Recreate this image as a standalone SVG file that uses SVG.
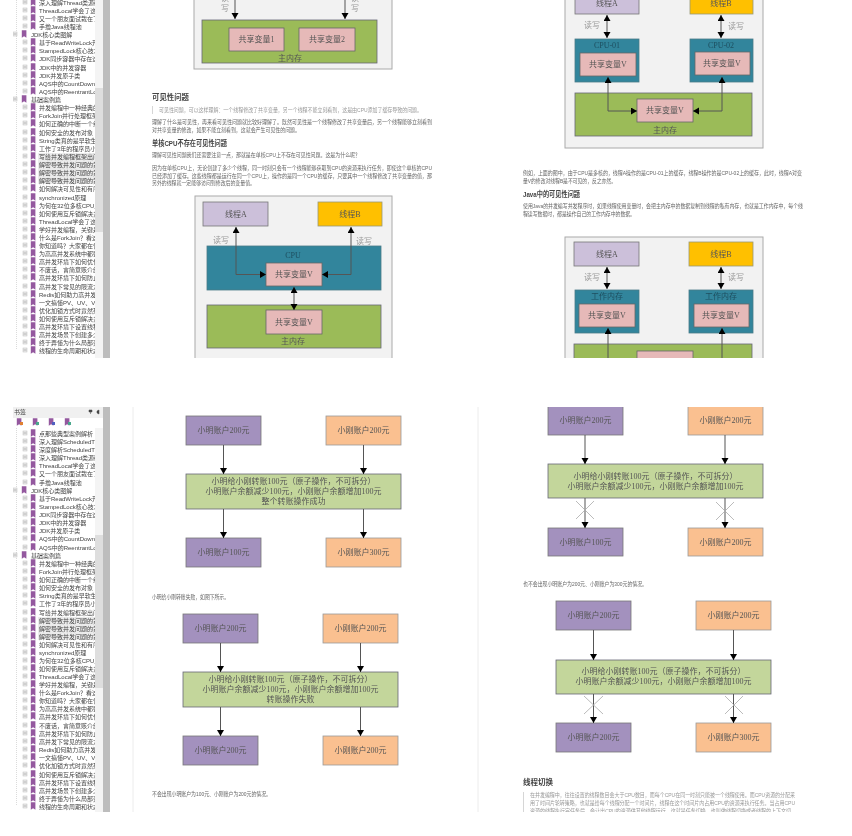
<svg xmlns="http://www.w3.org/2000/svg" width="852" height="836" viewBox="0 0 852 836">
<style>
text{font-family:"Liberation Sans","Noto Sans CJK SC",sans-serif}
.t{font-size:6px;fill:#444}
.b{font-size:5.6px;fill:#666}
.q{font-size:5.6px;fill:#999}
.h{font-size:7.5px;font-weight:700;fill:#444}
.h2{font-size:7.5px;font-weight:700;fill:#444}
.s{font-family:"Liberation Serif","Noto Sans CJK SC",serif;font-size:8px;fill:#555;text-anchor:middle}
.l{font-family:"Liberation Serif","Noto Sans CJK SC",serif;font-size:8px;fill:#999;text-anchor:middle}
.d{font-family:"Liberation Serif","Noto Sans CJK SC",serif;font-size:8px;fill:#1f4e5f;text-anchor:middle}
.outer{fill:#f2f2f2;stroke:#aaa;stroke-width:1}
.pa{fill:#ccc0da;stroke:#777;stroke-width:.8}
.pb{fill:#ffc000;stroke:#997;stroke-width:.8}
.cpu{fill:#31859c;stroke:#4a7a88;stroke-width:.8}
.var{fill:#e6b9b8;stroke:#666;stroke-width:.8}
.mem{fill:#9bbb59;stroke:#667;stroke-width:.8}
.pu{fill:#a391be;stroke:#777;stroke-width:.8}
.or{fill:#fac090;stroke:#999;stroke-width:.8}
.gr{fill:#c3d69b;stroke:#667;stroke-width:.8}
.cn{fill:none;stroke:#555;stroke-width:1}
.one{marker-end:url(#ah)}
.two{marker-start:url(#ah);marker-end:url(#ah)}
.x{fill:none;stroke:#aaa;stroke-width:.8}
.edge{stroke:#ececec;stroke-width:1}
</style>
<defs>
<marker id="ah" markerUnits="userSpaceOnUse" markerWidth="8" markerHeight="8" refX="6" refY="3.500" orient="auto-start-reverse"><path d="M0 0L6 3.500L0 7z" fill="#000"/></marker>
<filter id="soft" x="0" y="0" width="100%" height="100%"><feGaussianBlur stdDeviation="0.45"/></filter>
<g id="bm"><path d="M-2.200-3.800H2.400V3.800L0.100 2.200L-2.200 3.800z" fill="#94599f"/></g>
<g id="r2"><rect x="23" y="-2" width="4" height="4" fill="#eee" stroke="#bbb" stroke-width=".5"/><path d="M23.500 0H26.500" stroke="#777" stroke-width=".5"/><use href="#bm" x="33"/></g>
<g id="r1"><rect x="13" y="-2" width="4" height="4" fill="#eee" stroke="#bbb" stroke-width=".5"/><path d="M13.500 0H16.500" stroke="#777" stroke-width=".5"/><use href="#bm" x="24"/></g>
<clipPath id="ct"><rect x="0" y="0" width="95" height="358"/></clipPath>
<clipPath id="cb"><rect x="0" y="428" width="95" height="384"/></clipPath>
<clipPath id="p2"><rect x="134" y="0" width="344" height="358"/></clipPath>
<clipPath id="p3"><rect x="484" y="0" width="360" height="358"/></clipPath>
<clipPath id="p4"><rect x="134" y="407" width="344" height="405"/></clipPath>
<clipPath id="p5"><rect x="484" y="407" width="360" height="405"/></clipPath>
</defs>
<rect width="852" height="836" fill="#fff"/>
<g filter="url(#soft)">
<path class="edge" d="M133 407V812M478 407V812"/>

<g id="sidebar-top">
<rect x="95" y="0" width="8" height="358" fill="#f4f4f4"/>
<rect x="95" y="88" width="8" height="144" fill="#dedede"/>
<rect x="103" y="0" width="7" height="358" fill="#bdbdbd"/>
<path d="M16.500 0V350" stroke="#ccc" stroke-width=".7" stroke-dasharray="1 1"/>
<rect x="38" y="153" width="57" height="31" fill="#ececec"/>
<g clip-path="url(#ct)">
<use href="#r2" y="2"/><use href="#r2" y="10"/><use href="#r2" y="18"/><use href="#r2" y="26"/><use href="#r1" y="34"/><use href="#r2" y="42"/><use href="#r2" y="50"/><use href="#r2" y="58"/><use href="#r2" y="67"/><use href="#r2" y="75"/><use href="#r2" y="83"/><use href="#r2" y="91"/><use href="#r1" y="99"/><use href="#r2" y="107"/><use href="#r2" y="115"/><use href="#r2" y="123"/><use href="#r2" y="132"/><use href="#r2" y="140"/><use href="#r2" y="148"/><use href="#r2" y="156"/><use href="#r2" y="164"/><use href="#r2" y="172"/><use href="#r2" y="180"/><use href="#r2" y="188"/><use href="#r2" y="197"/><use href="#r2" y="205"/><use href="#r2" y="213"/><use href="#r2" y="221"/><use href="#r2" y="229"/><use href="#r2" y="237"/><use href="#r2" y="245"/><use href="#r2" y="253"/><use href="#r2" y="261"/><use href="#r2" y="269"/><use href="#r2" y="277"/><use href="#r2" y="286"/><use href="#r2" y="294"/><use href="#r2" y="302"/><use href="#r2" y="310"/><use href="#r2" y="318"/><use href="#r2" y="326"/><use href="#r2" y="334"/><use href="#r2" y="342"/><use href="#r2" y="350"/>
<g class="t">
<text x="39" y="4.500">深入理解Thread类源码</text>
<text x="39" y="12.500">ThreadLocal学会了这些</text>
<text x="39" y="20.500">又一个朋友面试栽在了</text>
<text x="39" y="28.500">手撸Java线程池</text>
<text x="31" y="36.500">JDK核心类图解</text>
<text x="39" y="44.500">基于ReadWriteLock开</text>
<text x="39" y="52.500">StampedLock核心技术</text>
<text x="39" y="60.500">JDK同步容器中存在这些</text>
<text x="39" y="69.500">JDK中的并发容器</text>
<text x="39" y="77.500">JDK并发原子类</text>
<text x="39" y="85.500">AQS中的CountDownLatch</text>
<text x="39" y="93.500">AQS中的ReentrantLock</text>
<text x="31" y="101.500">基础案例篇</text>
<text x="39" y="109.500">并发编程中一种经典的</text>
<text x="39" y="117.500">ForkJoin并行处理框架</text>
<text x="39" y="125.500">如何正确的中断一个线</text>
<text x="39" y="134.500">如何安全的发布对象</text>
<text x="39" y="142.500">String类真的是早软生产</text>
<text x="39" y="150.500">工作了3年的程序员小</text>
<text x="39" y="158.500">写给并发编程框架出问</text>
<text x="39" y="166.500">解密导致并发问题的第</text>
<text x="39" y="174.500">解密导致并发问题的第</text>
<text x="39" y="182.500">解密导致并发问题的第</text>
<text x="39" y="190.500">如何解决可见性和有序</text>
<text x="39" y="199.500">synchronized原理</text>
<text x="39" y="207.500">为何在32位多核CPU上</text>
<text x="39" y="215.500">如何使用互斥锁解决多</text>
<text x="39" y="223.500">ThreadLocal学会了这些</text>
<text x="39" y="231.500">学好并发编程，关键是</text>
<text x="39" y="239.500">什么是ForkJoin？看这</text>
<text x="39" y="247.500">你知道吗？大家都在使</text>
<text x="39" y="255.500">为高高并发系统中都要</text>
<text x="39" y="263.500">高并发环境下如何优化</text>
<text x="39" y="271.500">不废话，言简意赅介绍</text>
<text x="39" y="279.500">高并发环境下如何防止</text>
<text x="39" y="288.500">高并发下常见的限流方</text>
<text x="39" y="296.500">Redis如何助力高并发秒</text>
<text x="39" y="304.500">一文搞懂PV、UV、VV</text>
<text x="39" y="312.500">优化加锁方式时竟然死</text>
<text x="39" y="320.500">如何使用互斥锁解决多</text>
<text x="39" y="328.500">高并发环境下设置线程</text>
<text x="39" y="336.500">高并发场景下创建多少</text>
<text x="39" y="344.500">终于弄懂为什么局部变</text>
<text x="39" y="352.500">线程的生命周期和状态</text>
</g>
</g>
</g>

<g id="sidebar-bottom">
<rect x="13" y="407" width="90" height="11" fill="#f0f0f0"/>
<text class="t" x="14" y="414" fill="#777">书签</text>
<path d="M89 410h3v2h-3zM90.500 412v2M97 411l2-1v4l-2-1z" fill="#444" stroke="#444" stroke-width=".5"/>
<use href="#bm" x="19" y="422"/><use href="#bm" x="35" y="422"/><use href="#bm" x="51" y="422"/><use href="#bm" x="67" y="422"/>
<rect x="20" y="422" width="3" height="3" fill="#e08030"/><rect x="36" y="422" width="3" height="3" fill="#4aa88c"/><rect x="52" y="422" width="3" height="3" fill="#5060c0"/><rect x="68" y="422" width="3" height="3" fill="#4aa88c"/>
<rect x="95" y="428" width="8" height="384" fill="#f4f4f4"/>
<rect x="95" y="535" width="8" height="153" fill="#dedede"/>
<rect x="103" y="407" width="7" height="405" fill="#bdbdbd"/>
<path d="M16.500 428V806" stroke="#ccc" stroke-width=".7" stroke-dasharray="1 1"/>
<rect x="38" y="617" width="57" height="23" fill="#ececec"/>
<g clip-path="url(#cb)">
<use href="#r2" y="433"/><use href="#r2" y="441"/><use href="#r2" y="449"/><use href="#r2" y="457"/><use href="#r2" y="465"/><use href="#r2" y="473"/><use href="#r2" y="482"/><use href="#r1" y="490"/><use href="#r2" y="498"/><use href="#r2" y="506"/><use href="#r2" y="514"/><use href="#r2" y="522"/><use href="#r2" y="530"/><use href="#r2" y="538"/><use href="#r2" y="547"/><use href="#r1" y="555"/><use href="#r2" y="563"/><use href="#r2" y="571"/><use href="#r2" y="579"/><use href="#r2" y="587"/><use href="#r2" y="595"/><use href="#r2" y="603"/><use href="#r2" y="612"/><use href="#r2" y="620"/><use href="#r2" y="628"/><use href="#r2" y="636"/><use href="#r2" y="644"/><use href="#r2" y="652"/><use href="#r2" y="660"/><use href="#r2" y="668"/><use href="#r2" y="676"/><use href="#r2" y="684"/><use href="#r2" y="692"/><use href="#r2" y="700"/><use href="#r2" y="708"/><use href="#r2" y="716"/><use href="#r2" y="725"/><use href="#r2" y="733"/><use href="#r2" y="741"/><use href="#r2" y="749"/><use href="#r2" y="757"/><use href="#r2" y="765"/><use href="#r2" y="774"/><use href="#r2" y="782"/><use href="#r2" y="790"/><use href="#r2" y="798"/><use href="#r2" y="806"/>
<g class="t">
<text x="39" y="435.500">点那些典型案例解析</text>
<text x="39" y="443.500">深入理解ScheduledThread</text>
<text x="39" y="451.500">深度解析ScheduledThread</text>
<text x="39" y="459.500">深入理解Thread类源码</text>
<text x="39" y="467.500">ThreadLocal学会了这些</text>
<text x="39" y="475.500">又一个朋友面试栽在了</text>
<text x="39" y="484.500">手撸Java线程池</text>
<text x="31" y="492.500">JDK核心类图解</text>
<text x="39" y="500.500">基于ReadWriteLock开</text>
<text x="39" y="508.500">StampedLock核心技术</text>
<text x="39" y="516.500">JDK同步容器中存在这些</text>
<text x="39" y="524.500">JDK中的并发容器</text>
<text x="39" y="532.500">JDK并发原子类</text>
<text x="39" y="540.500">AQS中的CountDownLatch</text>
<text x="39" y="549.500">AQS中的ReentrantLock</text>
<text x="31" y="557.500">基础案例篇</text>
<text x="39" y="565.500">并发编程中一种经典的</text>
<text x="39" y="573.500">ForkJoin并行处理框架</text>
<text x="39" y="581.500">如何正确的中断一个线</text>
<text x="39" y="589.500">如何安全的发布对象</text>
<text x="39" y="597.500">String类真的是早软生产</text>
<text x="39" y="605.500">工作了3年的程序员小</text>
<text x="39" y="614.500">写给并发编程框架出问</text>
<text x="39" y="622.500">解密导致并发问题的第</text>
<text x="39" y="630.500">解密导致并发问题的第</text>
<text x="39" y="638.500">解密导致并发问题的第</text>
<text x="39" y="646.500">如何解决可见性和有序</text>
<text x="39" y="654.500">synchronized原理</text>
<text x="39" y="662.500">为何在32位多核CPU上</text>
<text x="39" y="670.500">如何使用互斥锁解决多</text>
<text x="39" y="678.500">ThreadLocal学会了这些</text>
<text x="39" y="686.500">学好并发编程，关键是</text>
<text x="39" y="694.500">什么是ForkJoin？看这</text>
<text x="39" y="702.500">你知道吗？大家都在使</text>
<text x="39" y="710.500">为高高并发系统中都要</text>
<text x="39" y="718.500">高并发环境下如何优化</text>
<text x="39" y="727.500">不废话，言简意赅介绍</text>
<text x="39" y="735.500">高并发环境下如何防止</text>
<text x="39" y="743.500">高并发下常见的限流方</text>
<text x="39" y="751.500">Redis如何助力高并发秒</text>
<text x="39" y="759.500">一文搞懂PV、UV、VV</text>
<text x="39" y="767.500">优化加锁方式时竟然死</text>
<text x="39" y="776.500">如何使用互斥锁解决多</text>
<text x="39" y="784.500">高并发环境下设置线程</text>
<text x="39" y="792.500">高并发场景下创建多少</text>
<text x="39" y="800.500">终于弄懂为什么局部变</text>
<text x="39" y="808.500">线程的生命周期和状态</text>
</g>
</g>
</g>

<g id="page-top-middle" clip-path="url(#p2)">
<g id="d1-frame"><rect class="outer" x="194" y="-20" width="198" height="89"/></g>
<g id="d1-label-l"><text class="l" x="225" y="1">读</text><text class="l" x="225" y="11">写</text></g>
<g id="d1-label-r"><text class="l" x="355" y="1">读</text><text class="l" x="355" y="11">写</text></g>
<g id="d1-memory"><rect class="mem" x="202" y="20" width="175" height="43"/><text class="s" x="290" y="61">主内存</text></g>
<g id="d1-var1"><rect class="var" x="229" y="28" width="55" height="23"/><text class="s" x="256.500" y="42">共享变量1</text></g>
<g id="d1-var2"><rect class="var" x="299" y="28" width="56" height="23"/><text class="s" x="327" y="42">共享变量2</text></g>
<g id="d1-connectors"><path class="cn one" d="M235 0V19"/><path class="cn one" d="M345 0V19"/></g>

<text class="h" x="152" y="99.500" textLength="37" lengthAdjust="spacingAndGlyphs">可见性问题</text>
<rect x="152" y="106" width=".8" height="8" fill="#ccc"/>
<text class="q" x="159" y="112" textLength="263" lengthAdjust="spacingAndGlyphs">可见性问题，可以这样理解：一个线程修改了共享变量，另一个线程不能立刻看到，这是由CPU添加了缓存导致的问题。</text>
<text class="b" x="152" y="124" textLength="280" lengthAdjust="spacingAndGlyphs">理解了什么是可见性，再来看可见性问题就比较好理解了。既然可见性是一个线程修改了共享变量后，另一个线程能够立刻看到</text>
<text class="b" x="152" y="132" textLength="148" lengthAdjust="spacingAndGlyphs">对共享变量的修改，如果不能立刻看到，这就会产生可见性的问题。</text>
<text class="h2" x="152" y="146" textLength="75" lengthAdjust="spacingAndGlyphs">单核CPU不存在可见性问题</text>
<text class="b" x="152" y="157" textLength="208" lengthAdjust="spacingAndGlyphs">理解可见性问题我们还需要注意一点，那就是在单核CPU上不存在可见性问题。这是为什么呢？</text>
<text class="b" x="152" y="170" textLength="280" lengthAdjust="spacingAndGlyphs">因为在单核CPU上，无论创建了多少个线程，同一时刻只会有一个线程能够获取到CPU的资源来执行任务，即使这个单核的CPU</text>
<text class="b" x="152" y="178" textLength="280" lengthAdjust="spacingAndGlyphs">已经添加了缓存。这些线程都是运行在同一个CPU上，操作的是同一个CPU的缓存，只要其中一个线程修改了共享变量的值，那</text>
<text class="b" x="152" y="185" textLength="103" lengthAdjust="spacingAndGlyphs">另外的线程就一定能够访问到修改后的变量值。</text>

<g id="d2-frame"><rect class="outer" x="195" y="196" width="197" height="180"/></g>
<g id="d2-thread-a"><rect class="pa" x="203" y="202" width="65" height="24"/><text class="s" x="236" y="217">线程A</text></g>
<g id="d2-thread-b"><rect class="pb" x="318" y="202" width="64" height="24"/><text class="s" x="350" y="217">线程B</text></g>
<g id="d2-cpu"><rect class="cpu" x="207" y="246" width="174" height="44"/><text class="d" x="293" y="258">CPU</text></g>
<g id="d2-var"><rect class="var" x="266" y="263" width="56" height="23"/><text class="s" x="294" y="277">共享变量V</text></g>
<g id="d2-memory"><rect class="mem" x="207" y="305" width="174" height="43"/><text class="s" x="293" y="344">主内存</text></g>
<g id="d2-var-mem"><rect class="var" x="266" y="310" width="56" height="24"/><text class="s" x="294" y="325">共享变量V</text></g>
<text class="l" x="221" y="243">读写</text><text class="l" x="364" y="244">读写</text>
<g id="d2-connectors"><path class="cn two" d="M236 227V274.500H266"/><path class="cn two" d="M351 227V274.500H322"/><path class="cn two" d="M294 287V310"/></g>
</g>

<g id="page-top-right" clip-path="url(#p3)">
<g id="d3-frame"><rect class="outer" x="565" y="-20" width="198" height="168"/></g>
<g id="d3-thread-a"><rect class="pa" x="575" y="-10" width="64" height="24"/><text class="s" x="607" y="6">线程A</text></g>
<g id="d3-thread-b"><rect class="pb" x="690" y="-10" width="63" height="24"/><text class="s" x="721" y="6">线程B</text></g>
<g id="d3-cpu1"><rect class="cpu" x="575" y="39" width="64" height="43"/><text class="d" x="607" y="48">CPU-01</text></g>
<g id="d3-cpu2"><rect class="cpu" x="690" y="39" width="63" height="43"/><text class="d" x="721" y="48">CPU-02</text></g>
<g id="d3-var1"><rect class="var" x="580" y="53" width="56" height="23"/><text class="s" x="608" y="67">共享变量V</text></g>
<g id="d3-var2"><rect class="var" x="695" y="52" width="55" height="23"/><text class="s" x="722" y="66">共享变量V</text></g>
<g id="d3-memory"><rect class="mem" x="575" y="93" width="177" height="43"/><text class="s" x="665" y="133">主内存</text></g>
<g id="d3-var-mem"><rect class="var" x="637" y="99" width="56" height="23"/><text class="s" x="665" y="113">共享变量V</text></g>
<text class="l" x="592" y="28">读写</text><text class="l" x="736" y="29">读写</text>
<g id="d3-connectors"><path class="cn two" d="M607 15V38"/><path class="cn two" d="M721 15V38"/><path class="cn two" d="M608 77V111H637"/><path class="cn two" d="M722 77V111H693"/></g>

<text class="b" x="523" y="175" textLength="279" lengthAdjust="spacingAndGlyphs">例如，上面的图中，由于CPU是多核的，线程A操作的是CPU-01上的缓存，线程B操作的是CPU-02上的缓存，此时，线程A对变</text>
<text class="b" x="523" y="183" textLength="93" lengthAdjust="spacingAndGlyphs">量V的修改对线程B是不可见的，反之亦然。</text>
<text class="h2" x="523" y="197" textLength="57" lengthAdjust="spacingAndGlyphs">Java中的可见性问题</text>
<text class="b" x="523" y="208" textLength="280" lengthAdjust="spacingAndGlyphs">使用Java的并发编写并发程序时，如果线程使用变量时，会把主内存中的数据复制到线程的私有内存，也就是工作内存中，每个线</text>
<text class="b" x="523" y="216" textLength="112" lengthAdjust="spacingAndGlyphs">程读写数据时，都是操作自己的工作内存中的数据。</text>

<g id="d4-frame"><rect class="outer" x="565" y="237" width="198" height="140"/></g>
<g id="d4-thread-a"><rect class="pa" x="574" y="242" width="65" height="24"/><text class="s" x="607" y="257">线程A</text></g>
<g id="d4-thread-b"><rect class="pb" x="689" y="242" width="64" height="24"/><text class="s" x="721" y="257">线程B</text></g>
<g id="d4-work1"><rect class="cpu" x="575" y="290" width="64" height="43"/><text class="d" x="607" y="299">工作内存</text></g>
<g id="d4-work2"><rect class="cpu" x="689" y="290" width="64" height="43"/><text class="d" x="721" y="299">工作内存</text></g>
<g id="d4-var1"><rect class="var" x="579" y="304" width="56" height="23"/><text class="s" x="607" y="318">共享变量V</text></g>
<g id="d4-var2"><rect class="var" x="694" y="304" width="55" height="23"/><text class="s" x="721" y="318">共享变量V</text></g>
<g id="d4-memory"><rect class="mem" x="574" y="344" width="178" height="43"/></g>
<g id="d4-var-mem"><rect class="var" x="637" y="351" width="56" height="23"/></g>
<text class="l" x="592" y="280">读写</text><text class="l" x="736" y="280">读写</text>
<g id="d4-connectors"><path class="cn two" d="M607 267V289"/><path class="cn two" d="M721 267V289"/><path class="cn one" d="M608 358V328"/><path class="cn one" d="M722 358V328"/></g>
</g>

<g id="page-bottom-middle" clip-path="url(#p4)">
<g id="d5-a"><rect class="pu" x="186" y="416" width="75" height="29"/><text class="s" x="223.500" y="433">小明账户200元</text></g>
<g id="d5-b"><rect class="or" x="326" y="416" width="75" height="29"/><text class="s" x="363.500" y="433">小刚账户200元</text></g>
<g id="d5-op"><rect class="gr" x="186" y="474" width="215" height="35"/><text class="s" x="293.500" y="484">小明给小刚转账100元（原子操作，不可拆分）</text><text class="s" x="293.500" y="494">小明账户余额减少100元，小刚账户余额增加100元</text><text class="s" x="293.500" y="504">整个转账操作成功</text></g>
<g id="d5-c"><rect class="pu" x="186" y="538" width="75" height="29"/><text class="s" x="223.500" y="555">小明账户100元</text></g>
<g id="d5-d"><rect class="or" x="326" y="538" width="75" height="29"/><text class="s" x="363.500" y="555">小刚账户300元</text></g>
<g id="d5-connectors"><path class="cn one" d="M223.500 445V474"/><path class="cn one" d="M363.500 445V474"/><path class="cn one" d="M223.500 509V538"/><path class="cn one" d="M363.500 509V538"/></g>
<text class="b" x="152" y="599" textLength="77" lengthAdjust="spacingAndGlyphs">小明给小刚转账失败，如图下所示。</text>

<g id="d6-a"><rect class="pu" x="183" y="614" width="75" height="29"/><text class="s" x="220.500" y="631">小明账户200元</text></g>
<g id="d6-b"><rect class="or" x="323" y="614" width="75" height="29"/><text class="s" x="360.500" y="631">小刚账户200元</text></g>
<g id="d6-op"><rect class="gr" x="183" y="672" width="215" height="35"/><text class="s" x="290.500" y="682">小明给小刚转账100元（原子操作，不可拆分）</text><text class="s" x="290.500" y="692">小明账户余额减少100元，小刚账户余额增加100元</text><text class="s" x="290.500" y="702">转账操作失败</text></g>
<g id="d6-c"><rect class="pu" x="183" y="736" width="75" height="29"/><text class="s" x="220.500" y="753">小明账户200元</text></g>
<g id="d6-d"><rect class="or" x="323" y="736" width="75" height="29"/><text class="s" x="360.500" y="753">小刚账户200元</text></g>
<g id="d6-connectors"><path class="cn one" d="M220.500 643V672"/><path class="cn one" d="M360.500 643V672"/><path class="cn one" d="M220.500 707V736"/><path class="cn one" d="M360.500 707V736"/></g>
<text class="b" x="152" y="796" textLength="119" lengthAdjust="spacingAndGlyphs">不会出现小明账户为100元、小刚账户为200元的情况。</text>
</g>

<g id="page-bottom-right" clip-path="url(#p5)">
<g id="d7-a"><rect class="pu" x="548" y="390" width="75" height="45"/><text class="s" x="585.500" y="423">小明账户200元</text></g>
<g id="d7-b"><rect class="or" x="688" y="390" width="75" height="45"/><text class="s" x="725.500" y="423">小刚账户200元</text></g>
<g id="d7-op"><rect class="gr" x="548" y="464" width="215" height="34"/><text class="s" x="655.500" y="479">小明给小刚转账100元（原子操作，不可拆分）</text><text class="s" x="655.500" y="489">小明账户余额减少100元，小刚账户余额增加100元</text></g>
<g id="d7-c"><rect class="pu" x="548" y="528" width="75" height="28"/><text class="s" x="585.500" y="545">小明账户100元</text></g>
<g id="d7-d"><rect class="or" x="688" y="528" width="75" height="28"/><text class="s" x="725.500" y="545">小刚账户200元</text></g>
<g id="d7-connectors"><path class="cn one" d="M585 435V464"/><path class="cn one" d="M725 435V464"/><path class="cn one" d="M585 498V528"/><path class="cn one" d="M725 498V528"/><path class="x" d="M576 501L594 519M594 501L576 519"/><path class="x" d="M716 502L734 520M734 502L716 520"/></g>
<text class="b" x="523" y="586" textLength="124" lengthAdjust="spacingAndGlyphs">也不会出现小明账户为200元、小刚账户为300元的情况。</text>

<g id="d8-a"><rect class="pu" x="556" y="601" width="75" height="29"/><text class="s" x="593.500" y="618">小明账户200元</text></g>
<g id="d8-b"><rect class="or" x="696" y="601" width="75" height="29"/><text class="s" x="733.500" y="618">小刚账户200元</text></g>
<g id="d8-op"><rect class="gr" x="556" y="660" width="215" height="34"/><text class="s" x="663.500" y="674">小明给小刚转账100元（原子操作，不可拆分）</text><text class="s" x="663.500" y="684">小明账户余额减少100元，小刚账户余额增加100元</text></g>
<g id="d8-c"><rect class="pu" x="556" y="723" width="75" height="29"/><text class="s" x="593.500" y="740">小明账户200元</text></g>
<g id="d8-d"><rect class="or" x="696" y="723" width="75" height="29"/><text class="s" x="733.500" y="740">小刚账户300元</text></g>
<g id="d8-connectors"><path class="cn one" d="M593.500 630V660"/><path class="cn one" d="M733.500 630V660"/><path class="cn one" d="M593.500 694V723"/><path class="cn one" d="M733.500 694V723"/><path class="x" d="M584 696L603 714M603 696L584 714"/><path class="x" d="M725 696L743 714M743 696L725 714"/></g>
<text class="h" x="523" y="785" textLength="30" lengthAdjust="spacingAndGlyphs">线程切换</text>
<rect x="523" y="792" width=".8" height="20" fill="#ccc"/>
<text class="q" x="530" y="797" textLength="265" lengthAdjust="spacingAndGlyphs">在并发编程中，往往设置的线程数目会大于CPU数目，而每个CPU在同一时刻只能被一个线程使用。而CPU资源的分配采</text>
<text class="q" x="530" y="805" textLength="265" lengthAdjust="spacingAndGlyphs">用了时间片轮转策略，也就是给每个线程分配一个时间片，线程在这个时间片内占用CPU的资源来执行任务。当占用CPU</text>
<text class="q" x="530" y="813" textLength="261" lengthAdjust="spacingAndGlyphs">资源的线程执行完任务后，会让出CPU的资源供其他线程运行，这就是任务切换，也叫做线程切换或者线程的上下文切</text>
</g>
</g>
</svg>
